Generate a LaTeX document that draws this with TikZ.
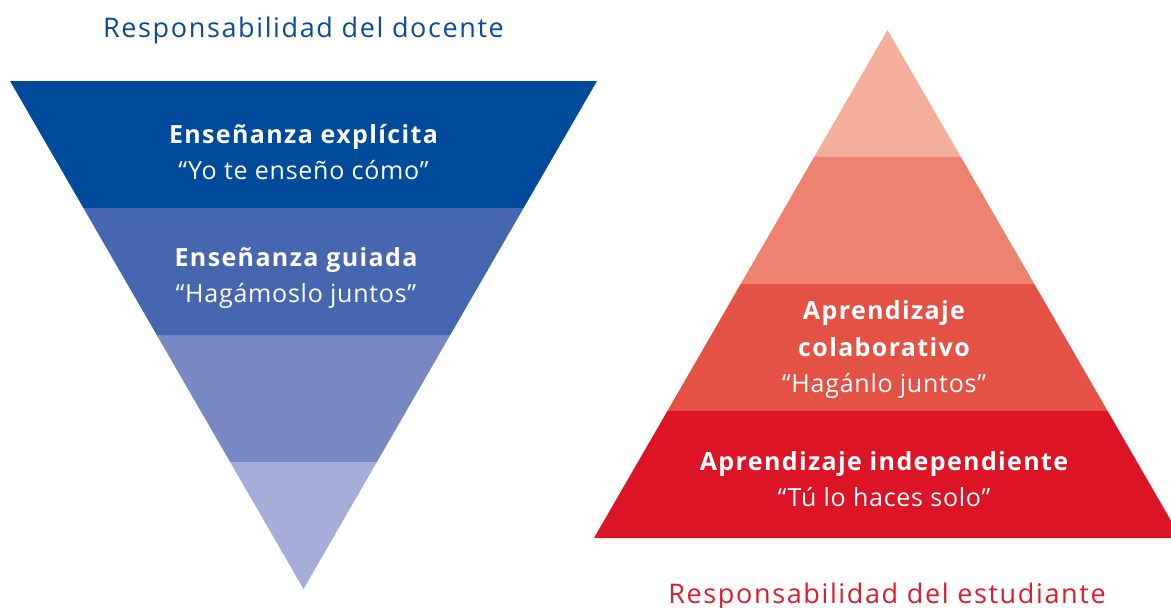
\documentclass[tikz,border=0pt]{standalone}
\usepackage{fontspec}
\setmainfont{Open Sans}
\newfontfamily\titlefont[LetterSpace=6]{Open Sans}
\newfontfamily\headfont[LetterSpace=5.5]{Open Sans}
\newfontfamily\quotefont[LetterSpace=3]{Open Sans}
\definecolor{bA}{HTML}{004A9C}
\definecolor{bB}{HTML}{4666AF}
\definecolor{bC}{HTML}{7888C2}
\definecolor{bD}{HTML}{A6ADD8}
\definecolor{rA}{HTML}{F4AF9C}
\definecolor{rB}{HTML}{ED8270}
\definecolor{rC}{HTML}{E45245}
\definecolor{rD}{HTML}{DC1426}
\definecolor{tblue}{HTML}{0B4A97}
\definecolor{tred}{HTML}{D81E2E}
\newcommand{\hd}[1]{{\headfont\bfseries #1}}
\newcommand{\qt}[1]{{\quotefont #1}}
\begin{document}
\begin{tikzpicture}[x=1pt,y=-1pt,
  bandtxt/.style={text=white,align=center,font=\fontsize{25}{36.5}\selectfont,inner sep=0pt},
  titletxt/.style={font=\titlefont\fontsize{27}{32}\selectfont,inner sep=0pt}]
\useasboundingbox (0,0) rectangle (1171,608);
\clip (0,0) rectangle (1171,608);
% left inverted triangle: top y=81, apex (303.5,589), half-width 293.5
\fill[bA] (10,81) -- (597,81) -- (523.6,208) -- (83.4,208) -- cycle;
\fill[bB] (83.4,208) -- (523.6,208) -- (450.25,335) -- (156.75,335) -- cycle;
\fill[bC] (156.75,335) -- (450.25,335) -- (376.9,462) -- (230.1,462) -- cycle;
\fill[bD] (230.1,462) -- (376.9,462) -- (303.5,589) -- cycle;
% right pyramid: apex (887.5,30), base y=538
\fill[rA] (887.5,30) -- (960.9,157) -- (814.1,157) -- cycle;
\fill[rB] (814.1,157) -- (960.9,157) -- (1034.3,284) -- (740.7,284) -- cycle;
\fill[rC] (740.7,284) -- (1034.3,284) -- (1107.6,411) -- (667.4,411) -- cycle;
\fill[rD] (667.4,411) -- (1107.6,411) -- (1181,538) -- (594,538) -- cycle;
% titles
\node[titletxt,text=tblue] (tdoc) at (303.5,30) {Responsabilidad del docente};
\node[titletxt,text=tred] (test) at (887,596) {Responsabilidad del estudiante};
% band texts
\node[bandtxt] (l1) at (303.5,152) {\hd{Enseñanza explícita}\\\qt{“Yo te enseño cómo”}};
\node[bandtxt] (l2) at (296,278) {\hd{Enseñanza guiada}\\\qt{“Hagámoslo juntos”}};
\node[bandtxt] (r3) at (884,350) {\hd{Aprendizaje}\\\hd{colaborativo}\\\qt{“Hagánlo juntos”}};
\node[bandtxt] (r4) at (884,479) {\hd{Aprendizaje independiente}\\\qt{“Tú lo haces solo”}};
\end{tikzpicture}
\end{document}
